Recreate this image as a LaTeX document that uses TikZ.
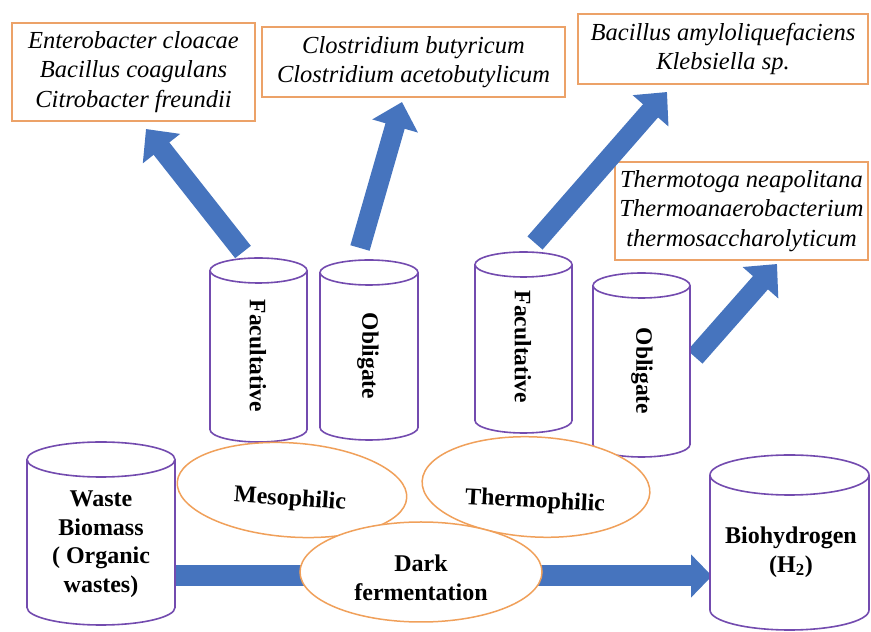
\documentclass[tikz,border=0pt]{standalone}
\usepackage{fontspec}
\setmainfont{Liberation Serif}
\usetikzlibrary{arrows.meta,shapes.geometric}
\definecolor{boxorange}{RGB}{236,162,104}
\definecolor{ellorange}{RGB}{240,160,90}
\definecolor{cylpurple}{RGB}{115,75,175}
\definecolor{arrowblue}{RGB}{70,116,190}
\newcommand\mycyl[5]{%
  \pgfmathsetmacro\myrx{(#2-#1)/2}%
  \filldraw[cylstyle] (#1,#3-#5) -- (#1,#4+#5)
     arc[start angle=180,end angle=360,x radius=\myrx,y radius=#5]
     -- (#2,#3-#5)
     arc[start angle=0,end angle=180,x radius=\myrx,y radius=#5] -- cycle;
  \draw[cylstyle] (#1,#3-#5) arc[start angle=180,end angle=360,x radius=\myrx,y radius=#5];
}
\begin{document}
\begin{tikzpicture}[x=1pt,y=1pt,
  specbox/.style={draw=boxorange,line width=1.8pt,fill=white,align=center,inner sep=0pt,
     font=\fontsize{24.5}{29.5}\selectfont\itshape},
  cylstyle/.style={draw=cylpurple,line width=1.6pt,fill=white},
  cyllabel/.style={font=\fontsize{23.5}{28}\selectfont\bfseries,rotate=-90,inner sep=0pt},
  boldlabel/.style={font=\fontsize{24}{28.5}\selectfont\bfseries,align=center,inner sep=0pt},
  ellstyle/.style={ellipse,draw=ellorange,line width=1.5pt,fill=white,inner sep=0pt},
  bigarrow/.style={draw=arrowblue,line width=20pt,-{Triangle[length=25pt,width=46pt]}},
  flatarrow/.style={draw=arrowblue,line width=21pt,-{Triangle[length=21pt,width=42pt]}}
]
\useasboundingbox (0,0) rectangle (871,632);

% species boxes
\node[specbox,minimum width=243pt,minimum height=98pt] (box1) at (133.5,560)
  {Enterobacter cloacae\\Bacillus coagulans\\Citrobacter freundii};
\node[specbox,minimum width=303pt,minimum height=70pt] (box2) at (413.5,570)
  {Clostridium butyricum\\Clostridium acetobutylicum};
\node[specbox,minimum width=290pt,minimum height=70pt] (box3) at (723,583)
  {Bacillus amyloliquefaciens\\Klebsiella sp.};
\node[specbox,minimum width=253pt,minimum height=98pt] (box4) at (741.5,421)
  {Thermotoga neapolitana\\Thermoanaerobacterium\\thermosaccharolyticum};

% arrow end points
\coordinate (a1s) at (243,380); \coordinate (a1e) at (146,503);
\coordinate (a2s) at (360,384); \coordinate (a2e) at (402,530);
\coordinate (a3s) at (535,389); \coordinate (a3e) at (667,540);
\coordinate (a4s) at (695,275); \coordinate (a4e) at (777,368);
\coordinate (h1s) at (175,56);  \coordinate (h1e) at (330,56);
\coordinate (h2s) at (530,56);  \coordinate (h2e) at (712,56);

\draw[bigarrow] (a1s) -- (a1e);
\draw[bigarrow] (a2s) -- (a2e);
\draw[bigarrow] (a3s) -- (a3e);
\draw[bigarrow] (a4s) -- (a4e);
\draw[draw=arrowblue,line width=21pt] (h1s) -- (h1e);
\draw[flatarrow] (h2s) -- (h2e);

% cylinders
\mycyl{210}{307}{374}{190}{12.5}
\mycyl{320}{418}{372}{192}{12.5}
\mycyl{475}{572}{380}{199}{12.5}
\mycyl{593}{690}{359}{175}{12.5}
\mycyl{27}{175}{190}{7}{17.5}
\mycyl{710}{869}{177}{2}{20}

\node[cyllabel] (fac1) at (258,276) {Facultative};
\node[cyllabel] (obl1) at (368,276) {Obligate};
\node[cyllabel] (fac2) at (523,285) {Facultative};
\node[cyllabel] (obl2) at (642,261) {Obligate};
\node[boldlabel] (waste) at (101,88) {Waste\\Biomass\\( Organic\\wastes)};
\node[boldlabel] (bio) at (791,80) {Biohydrogen\\(H\textsubscript{2})};

% ellipses
\node[ellstyle,minimum width=230pt,minimum height=94pt,rotate=-4] (meso) at (292,142) {};
\node[ellstyle,minimum width=228pt,minimum height=100pt,rotate=-3] (thermo) at (536,145) {};
\node[ellstyle,minimum width=242pt,minimum height=100pt] (dark) at (421,60) {};

\node[boldlabel,rotate=-4] (mesot) at (290,132) {Mesophilic};
\node[boldlabel,rotate=-3] (thermot) at (535,130) {Thermophilic};
\node[boldlabel] (darkt) at (421,54) {Dark\\fermentation};
\end{tikzpicture}
\end{document}
